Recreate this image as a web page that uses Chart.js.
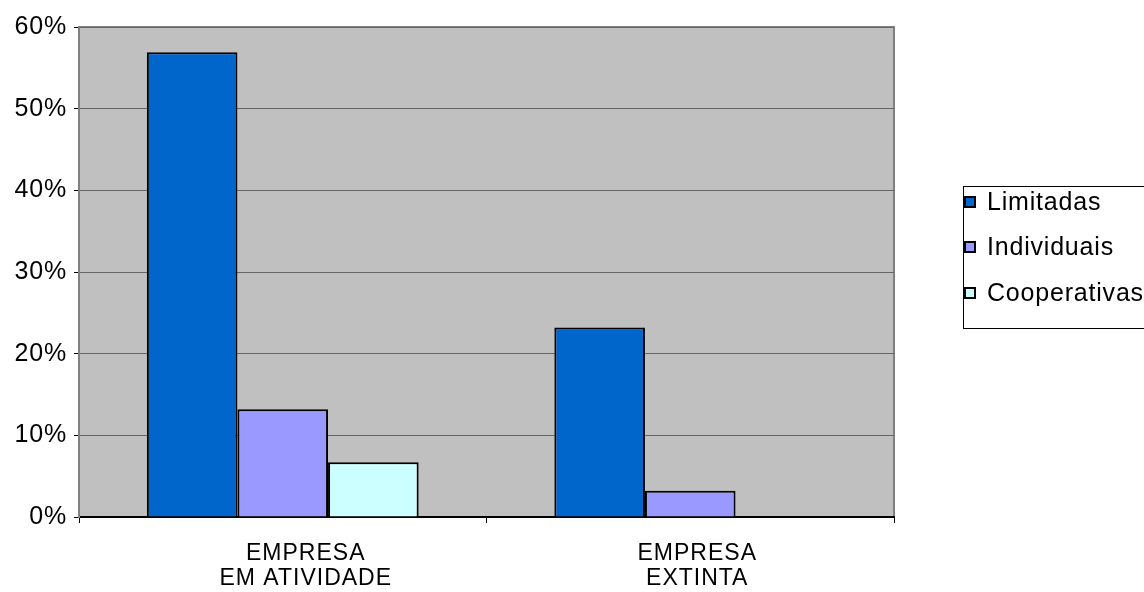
<!DOCTYPE html>
<html>
<head>
<meta charset="utf-8">
<script src="https://cdn.jsdelivr.net/npm/chart.js@4"></script>
<style>
  body { margin: 0; background: #fff; }
  #wrap { width: 1144px; height: 592px; }
</style>
</head>
<body>
<div id="wrap"><canvas id="myChart" width="1144" height="592"></canvas></div>
<script>
// dados //
const categorias = [['EMPRESA', 'EM ATIVIDADE'], ['EMPRESA', 'EXTINTA']];
const limitadas = [56.9, 23.2];
const individuais = [13.2, 3.2];
const cooperativas = [6.7, 0];
const ticksY = ['0%', '10%', '20%', '30%', '40%', '50%', '60%'];

const fonte = '"Liberation Sans", Arial, sans-serif';
// deslocamento dos rotulos do eixo x (como no original)
const deslocX = [23, 7];

// fundo cinza da area do grafico
const fundo = {
    id: 'fundo',
    beforeDraw(chart) {
        const a = chart.chartArea;
        const c = chart.ctx;
        c.letterSpacing = '0.8px';
        c.save();
        c.fillStyle = '#c0c0c0';
        c.fillRect(a.left, a.top, a.right - a.left, a.bottom - a.top);
        c.strokeStyle = '#808080';
        c.lineWidth = 2;
        c.strokeRect(a.left, a.top, a.right - a.left, a.bottom - a.top);
        c.restore();
    }
};

// rotulos das categorias
const rotulos = {
    id: 'rotulos',
    afterDraw(chart) {
        const c = chart.ctx;
        const x = chart.scales.x;
        const base = chart.chartArea.bottom;
        c.save();
        c.letterSpacing = '1px';
        c.font = '23px ' + fonte;
        c.fillStyle = '#000';
        c.textAlign = 'center';
        c.textBaseline = 'middle';
        chart.data.labels.forEach((lab, i) => {
            const px = x.getPixelForValue(i) + deslocX[i];
            lab.forEach((linha, j) => {
                c.fillText(linha, px, base + 37 + j * 25);
            });
        });
        c.restore();
    }
};

// legenda com caixa
const legenda = {
    id: 'legenda',
    afterDraw(chart) {
        const c = chart.ctx;
        c.save();
        c.strokeStyle = '#000';
        c.lineWidth = 1;
        c.strokeRect(963.5, 186.5, 200, 142);
        const ys = [202, 247, 293];
        c.font = '25px ' + fonte;
        c.textBaseline = 'middle';
        chart.data.datasets.forEach((ds, i) => {
            c.fillStyle = ds.backgroundColor;
            c.fillRect(965, ys[i] - 5, 10, 10);
            c.lineWidth = 2;
            c.strokeRect(965, ys[i] - 5, 10, 10);
            c.fillStyle = '#000';
            c.fillText(ds.label, 987, ys[i] + 1);
        });
        c.restore();
    }
};

const ctx = document.getElementById('myChart');

new Chart(ctx, {
    type: 'bar',
    data: {
        labels: categorias,
        datasets: [{
            label: 'Limitadas',
            data: limitadas,
            backgroundColor: '#0066cc',
            borderColor: '#000',
            borderWidth: 2
        }, {
            label: 'Individuais',
            data: individuais,
            backgroundColor: '#9999ff',
            borderColor: '#000',
            borderWidth: 2
        }, {
            label: 'Cooperativas',
            data: cooperativas,
            backgroundColor: '#ccffff',
            borderColor: '#000',
            borderWidth: 2
        }]
    },
    options: {
        responsive: false,
        animation: false,
        categoryPercentage: 0.667,
        barPercentage: 1,
        layout: {
            padding: { top: 27, right: 250, left: 0, bottom: 0 }
        },
        plugins: {
            legend: { display: false },
            tooltip: { enabled: false }
        },
        scales: {
            x: {
                afterFit: (s) => { s.height = 75; },
                grid: {
                    offset: true,
                    drawOnChartArea: false,
                    tickLength: 6,
                    tickColor: '#000'
                },
                border: { color: '#000', width: 2 },
                ticks: { display: false }
            },
            y: {
                min: 0,
                max: 60,
                afterFit: (s) => { s.width = 79; },
                grid: {
                    color: '#666',
                    tickLength: 5,
                    tickColor: '#000'
                },
                border: { color: '#808080', width: 2 },
                ticks: {
                    stepSize: 10,
                    color: '#000',
                    padding: 7,
                    font: { family: fonte, size: 25 },
                    callback: (v, i) => ticksY[i]
                }
            }
        }
    },
    plugins: [fundo, rotulos, legenda]
});
</script>
</body>
</html>
